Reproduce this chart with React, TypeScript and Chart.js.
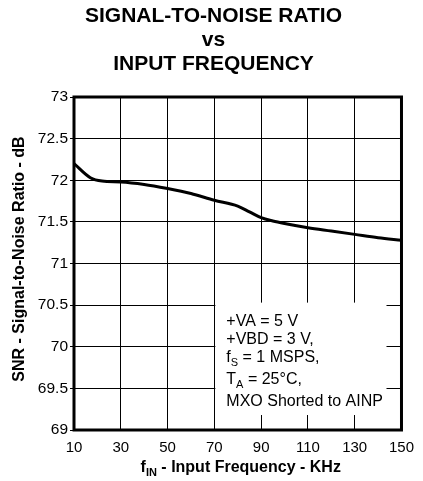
import React, { useEffect, useRef } from "react";
import { Chart, registerables } from "chart.js";

Chart.register(...registerables);

// ---- data ----
const freqKHz = [10, 17, 22, 30, 40, 50, 60, 70, 80, 85, 90, 95, 100, 110, 120, 130, 140, 150];
const snrDb = [72.2, 72.03, 71.99, 71.98, 71.95, 71.9, 71.84, 71.76, 71.69, 71.62, 71.55, 71.51, 71.48, 71.43, 71.39, 71.35, 71.31, 71.28];
const xTickValues = [10, 30, 50, 70, 90, 110, 130, 150];
const yTickValues = [69, 69.5, 70, 70.5, 71, 71.5, 72, 72.5, 73];
const titleLines = ["SIGNAL-TO-NOISE RATIO", "vs", "INPUT FREQUENCY"];
const yAxisTitle = "SNR - Signal-to-Noise Ratio - dB";
const xAxisTitleParts = ["f", "IN", " - Input Frequency - KHz"];
const noteLines: [string, string, string][] = [
  ["+VA = 5 V", "", ""],
  ["+VBD = 3 V,", "", ""],
  ["f", "S", " = 1 MSPS,"],
  ["T", "A", " = 25°C,"],
  ["MXO Shorted to AINP", "", ""],
];

const FONT = "'Liberation Sans', Arial, Helvetica, sans-serif";

const decorPlugin = {
  id: "decor",
  beforeDatasetsDraw(chart: any) {
    const { ctx, scales } = chart;
    const xs = scales.x;
    const ys = scales.y;
    const left = xs.getPixelForValue(70) + 1;
    const right = xs.getPixelForValue(150) - 15;
    const top = ys.getPixelForValue(70.53);
    const bottom = ys.getPixelForValue(69.18);
    ctx.save();
    ctx.fillStyle = "#ffffff";
    ctx.fillRect(left, top, right - left, bottom - top);
    const offsets = [23.5, 41, 59, 81, 103];
    ctx.fillStyle = "#000000";
    ctx.textAlign = "left";
    ctx.textBaseline = "alphabetic";
    noteLines.forEach((parts, i) => {
      let x = left + 11;
      const y = top + offsets[i];
      ctx.font = `16px ${FONT}`;
      ctx.fillText(parts[0], x, y);
      x += ctx.measureText(parts[0]).width;
      if (parts[1]) {
        ctx.font = `11px ${FONT}`;
        ctx.fillText(parts[1], x, y + 4.5);
        x += ctx.measureText(parts[1]).width;
      }
      if (parts[2]) {
        ctx.font = `16px ${FONT}`;
        ctx.fillText(parts[2], x, y);
      }
    });
    ctx.restore();
  },
  afterDraw(chart: any) {
    const { ctx, chartArea } = chart;
    const { left, right, top, bottom } = chartArea;
    ctx.save();
    // frame
    ctx.strokeStyle = "#000000";
    ctx.lineWidth = 3;
    ctx.strokeRect(left, top, right - left, bottom - top);
    // x axis title with subscript
    ctx.fillStyle = "#000000";
    ctx.textBaseline = "alphabetic";
    ctx.textAlign = "left";
    const big = `bold 16px ${FONT}`;
    const small = `bold 11px ${FONT}`;
    ctx.font = big;
    const w0 = ctx.measureText(xAxisTitleParts[0]).width;
    const w2 = ctx.measureText(xAxisTitleParts[2]).width;
    ctx.font = small;
    const w1 = ctx.measureText(xAxisTitleParts[1]).width;
    const total = w0 + w1 + w2;
    let x = (left + right) / 2 + 3 - total / 2;
    const by = bottom + 41.5;
    ctx.font = big;
    ctx.fillText(xAxisTitleParts[0], x, by);
    x += w0;
    ctx.font = small;
    ctx.fillText(xAxisTitleParts[1], x, by + 4);
    x += w1;
    ctx.font = big;
    ctx.fillText(xAxisTitleParts[2], x, by);
    // y axis title
    ctx.translate(23.5, (top + bottom) / 2 - 4.5);
    ctx.rotate(-Math.PI / 2);
    ctx.textAlign = "center";
    ctx.font = big;
    ctx.fillText(yAxisTitle, 0, 0);
    ctx.restore();
  },
};

export default function App() {
  const ref = useRef<HTMLCanvasElement | null>(null);

  useEffect(() => {
    if (!ref.current) return;
    const chart = new Chart(ref.current, {
      type: "line",
      data: {
        datasets: [
          {
            data: freqKHz.map((f, i) => ({ x: f, y: snrDb[i] })),
            borderColor: "#000000",
            borderWidth: 3,
            pointRadius: 0,
            fill: false,
            tension: 0.4,
            cubicInterpolationMode: "monotone",
          },
        ],
      },
      options: {
        animation: false,
        responsive: false,
        devicePixelRatio: 1,
        layout: { padding: { left: 20, right: 16, top: 0, bottom: 0 } },
        plugins: {
          legend: { display: false },
          tooltip: { enabled: false },
          title: {
            display: true,
            text: titleLines,
            color: "#000000",
            font: { family: FONT, size: 21, weight: "bold", lineHeight: 24 / 21 },
            padding: { top: 4, bottom: 21 },
          },
        },
        scales: {
          x: {
            type: "linear",
            min: 10,
            max: 150,
            afterBuildTicks: (s: any) => {
              s.ticks = xTickValues.map((v) => ({ value: v }));
            },
            afterFit: (s: any) => {
              s.height = 51;
            },
            ticks: {
              color: "#000000",
              font: { family: FONT, size: 15 },
              padding: 9,
              maxRotation: 0,
              autoSkip: false,
              callback: (v: any) => String(v),
            },
            grid: { color: "#000000", lineWidth: 1, drawTicks: false },
            border: { display: false },
          },
          y: {
            type: "linear",
            min: 69,
            max: 73,
            afterBuildTicks: (s: any) => {
              s.ticks = yTickValues.map((v) => ({ value: v }));
            },
            afterFit: (s: any) => {
              s.width = 54;
            },
            ticks: {
              color: "#000000",
              font: { family: FONT, size: 15.5 },
              padding: 2,
              autoSkip: false,
              callback: (v: any) => String(v),
            },
            grid: { color: "#000000", lineWidth: 1, drawTicks: true, tickLength: 4 },
            border: { display: false },
          },
        },
      },
      plugins: [decorPlugin],
    } as any);
    return () => chart.destroy();
  }, []);

  return (
    <div style={{ position: "absolute", left: 0, top: 0, width: 423, height: 481, background: "#ffffff" }}>
      <canvas ref={ref} width={423} height={481} style={{ display: "block", width: 423, height: 481 }} />
    </div>
  );
}
